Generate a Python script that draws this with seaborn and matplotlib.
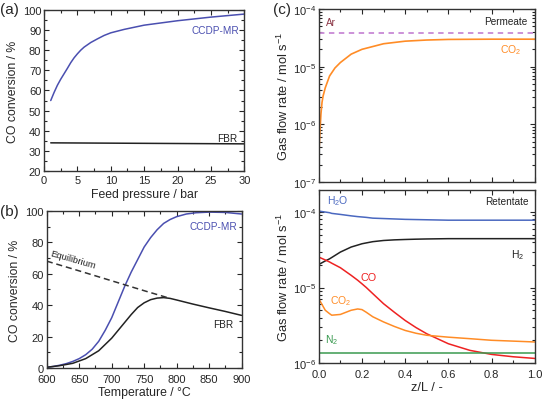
import numpy as np
import pandas as pd
import matplotlib
matplotlib.use("Agg")
import matplotlib.pyplot as plt
import seaborn as sns
from matplotlib.ticker import MultipleLocator, LogLocator, NullFormatter, FuncFormatter

# -----------------------------
# Data
# -----------------------------

# (a) CO conversion vs feed pressure
pressure = [1, 1.5, 2, 2.5, 3, 3.5, 4, 4.5, 5, 5.5, 6, 7, 8, 9, 10, 12, 15, 20, 25, 30]
mr_pressure = [55, 59, 62.6, 65.6, 68.3, 71, 73.8, 76.2, 78.2, 80, 81.5, 83.8, 85.6,
               87.3, 88.6, 90.3, 92.4, 94.6, 96.4, 97.9]
fbr_pressure_x = [1, 30]
fbr_pressure = [34, 33.5]

# (b) CO conversion vs temperature
temp = [600, 610, 620, 630, 640, 650, 660, 670, 680, 690, 700, 710, 720, 730, 740,
        750, 760, 770, 780, 790, 800, 815, 830, 850, 875, 900]
mr_temp = [0.5, 1, 1.8, 2.8, 4.2, 6, 8.5, 12, 17, 24, 32, 42, 52, 61, 69,
           77, 83, 88, 92, 94.5, 96.3, 98, 98.8, 99.2, 99, 98]
fbr_temp_x = [600, 620, 640, 660, 680, 700, 710, 720, 730, 740, 750, 760, 770, 780,
              790, 800, 825, 850, 875, 900]
fbr_temp = [0.5, 1.5, 3, 6, 11, 19, 24, 29, 34, 38.5, 41.5, 43.5, 44.5, 44.8,
            44.3, 43.3, 40.7, 38.3, 36, 33.5]
eq_temp_x = [600, 650, 700, 750, 790]
eq_temp = [68, 61.8, 55.5, 49.2, 44.3]

# (c) permeate side
z_perm = [0, 0.002, 0.005, 0.01, 0.015, 0.02, 0.03, 0.05, 0.075, 0.1,
          0.15, 0.2, 0.3, 0.4, 0.5, 0.6, 0.8, 1.0]
co2_perm = [2.1e-7, 4e-7, 7e-7, 1.5e-6, 2.4e-6, 3.1e-6, 4.3e-6, 6.9e-6, 9.5e-6, 1.18e-5,
            1.65e-5, 2.0e-5, 2.5e-5, 2.77e-5, 2.9e-5, 2.97e-5, 3.0e-5, 3.0e-5]
z_ar = [0, 1]
ar_perm = [3.8e-5, 3.8e-5]

# (c) retentate side
z_ret = [0, 0.03, 0.05, 0.06, 0.1, 0.15, 0.18, 0.2, 0.22, 0.25, 0.3, 0.35, 0.4,
         0.45, 0.5, 0.6, 0.7, 0.8, 0.9, 1.0]
h2o_ret = [1.03e-4, 1.0e-4, 0.98e-4, 0.96e-4, 0.93e-4, 0.89e-4, 0.87e-4, 0.86e-4, 0.85e-4,
           0.83e-4, 0.82e-4, 0.81e-4, 0.8e-4, 0.795e-4, 0.79e-4, 0.78e-4, 0.78e-4,
           0.78e-4, 0.78e-4, 0.78e-4]
h2_ret = [2.02e-5, 2.25e-5, 2.4e-5, 2.5e-5, 2.95e-5, 3.44e-5, 3.65e-5, 3.8e-5, 3.9e-5,
          4.05e-5, 4.2e-5, 4.28e-5, 4.33e-5, 4.37e-5, 4.4e-5, 4.44e-5, 4.44e-5,
          4.44e-5, 4.44e-5, 4.44e-5]
co_ret = [2.53e-5, 2.32e-5, 2.18e-5, 2.1e-5, 1.83e-5, 1.45e-5, 1.25e-5, 1.12e-5, 1.0e-5,
          8.3e-6, 6.1e-6, 4.7e-6, 3.66e-6, 2.95e-6, 2.44e-6, 1.8e-6, 1.47e-6, 1.3e-6,
          1.21e-6, 1.15e-6]
co2_ret = [7.1e-6, 5.0e-6, 4.5e-6, 4.3e-6, 4.4e-6, 5.0e-6, 5.2e-6, 5.1e-6, 4.7e-6,
           4.1e-6, 3.5e-6, 3.05e-6, 2.7e-6, 2.48e-6, 2.33e-6, 2.2e-6, 2.1e-6, 2.0e-6,
           1.95e-6, 1.9e-6]
z_n2 = [0, 1]
n2_ret = [1.36e-6, 1.36e-6]

# -----------------------------
# Style
# -----------------------------
sns.set_style("ticks")
plt.rcParams["font.family"] = ["Liberation Sans", "DejaVu Sans"]
plt.rcParams["mathtext.fontset"] = "custom"
plt.rcParams["mathtext.rm"] = "Liberation Sans"
plt.rcParams["mathtext.it"] = "Liberation Sans"
plt.rcParams["xtick.direction"] = "in"
plt.rcParams["ytick.direction"] = "in"
plt.rcParams["axes.linewidth"] = 1.0

BLUE = "#4a4fb0"
ORANGE = "#ff8c26"
RED = "#ee2222"
GREEN = "#3a9a50"
H2O_BLUE = "#4a68c0"
AR_TEXT = "#8b3545"
AR_LINE = "#c889d6"
TICK_FS = 8
LABEL_FS = 8.8

fig = plt.figure(figsize=(5.44, 4.02), dpi=100)
ax_a = fig.add_axes([0.081, 0.572, 0.368, 0.401])
ax_b = fig.add_axes([0.086, 0.082, 0.358, 0.391])
ax_ct = fig.add_axes([0.586, 0.545, 0.397, 0.430])
ax_cb = fig.add_axes([0.586, 0.0945, 0.397, 0.430])


def style_axes(ax, xpad=3):
    ax.tick_params(which="both", top=True, right=True, labelsize=TICK_FS, width=0.8)
    ax.tick_params(axis="x", pad=xpad)
    ax.tick_params(axis="y", pad=2)
    ax.tick_params(which="major", length=3.5)
    ax.tick_params(which="minor", length=2)
    for s in ax.spines.values():
        s.set_color("#333333")


# -----------------------------
# (a)
# -----------------------------
sns.lineplot(x=pressure, y=mr_pressure, ax=ax_a, color=BLUE, lw=1.1)
sns.lineplot(x=fbr_pressure_x, y=fbr_pressure, ax=ax_a, color="#222222", lw=1.1)
ax_a.set_xlim(0, 30)
ax_a.set_ylim(20, 100)
ax_a.xaxis.set_major_locator(MultipleLocator(5))
ax_a.xaxis.set_minor_locator(MultipleLocator(2.5))
ax_a.yaxis.set_major_locator(MultipleLocator(10))
ax_a.yaxis.set_minor_locator(MultipleLocator(5))
ax_a.set_xlabel("Feed pressure / bar", fontsize=LABEL_FS, labelpad=2)
ax_a.set_ylabel("CO conversion / %", fontsize=LABEL_FS, labelpad=3)
ax_a.text(25.6, 90, "CCDP-MR", color=BLUE, fontsize=7.2, ha="center", va="center")
ax_a.text(27.4, 36.2, "FBR", color="#222222", fontsize=7.2, ha="center", va="center")
style_axes(ax_a)

# -----------------------------
# (b)
# -----------------------------
sns.lineplot(x=temp, y=mr_temp, ax=ax_b, color=BLUE, lw=1.1)
sns.lineplot(x=fbr_temp_x, y=fbr_temp, ax=ax_b, color="#222222", lw=1.1)
sns.lineplot(x=eq_temp_x, y=eq_temp, ax=ax_b, color="#333333", lw=1.1, linestyle=(0, (4, 2.5)))
ax_b.set_xlim(600, 900)
ax_b.set_ylim(0, 100)
ax_b.xaxis.set_major_locator(MultipleLocator(50))
ax_b.xaxis.set_minor_locator(MultipleLocator(25))
ax_b.yaxis.set_major_locator(MultipleLocator(20))
ax_b.yaxis.set_minor_locator(MultipleLocator(10))
ax_b.set_xlabel("Temperature / \u00b0C", fontsize=LABEL_FS, labelpad=1)
ax_b.set_ylabel("CO conversion / %", fontsize=LABEL_FS, labelpad=3)
ax_b.text(857, 90.4, "CCDP-MR", color=BLUE, fontsize=7.2, ha="center", va="center")
ax_b.text(872, 28, "FBR", color="#222222", fontsize=7.2, ha="center", va="center")
ax_b.text(641, 69.2, "Equilibrium", color="#222222", fontsize=6.8, ha="center", va="center",
          rotation=-16)
style_axes(ax_b, xpad=4.5)


# -----------------------------
# (c)
# -----------------------------
def log_fmt(v, pos):
    e = int(round(np.log10(v)))
    return r"$10^{%d}$" % e


for ax in (ax_ct, ax_cb):
    ax.set_yscale("log")
    ax.set_xlim(0, 1)
    ax.xaxis.set_major_locator(MultipleLocator(0.2))
    ax.xaxis.set_minor_locator(MultipleLocator(0.1))
    ax.yaxis.set_major_locator(LogLocator(base=10))
    ax.yaxis.set_minor_locator(LogLocator(base=10, subs=np.arange(2, 10)))
    ax.yaxis.set_minor_formatter(NullFormatter())
    ax.yaxis.set_major_formatter(FuncFormatter(log_fmt))
    ax.set_ylabel("Gas flow rate / mol s$^{-1}$", fontsize=9.3, labelpad=1)
    style_axes(ax, xpad=4.5)

sns.lineplot(x=z_ar, y=ar_perm, ax=ax_ct, color=AR_LINE, lw=1.3, linestyle=(0, (3, 2.5)))
sns.lineplot(x=z_perm, y=co2_perm, ax=ax_ct, color=ORANGE, lw=1.2)
ax_ct.set_ylim(1e-7, 1e-4)
ax_ct.set_xticklabels([])
ax_ct.set_xlabel("")
ax_ct.text(0.054, 6e-5, "Ar", color=AR_TEXT, fontsize=7.2, ha="center", va="center")
ax_ct.text(0.866, 6.3e-5, "Permeate", color="#222222", fontsize=7.2, ha="center", va="center")
ax_ct.text(0.89, 2.0e-5, "CO$_2$", color=ORANGE, fontsize=7.5, ha="center", va="center")

sns.lineplot(x=z_ret, y=h2o_ret, ax=ax_cb, color=H2O_BLUE, lw=1.1)
sns.lineplot(x=z_ret, y=h2_ret, ax=ax_cb, color="#222222", lw=1.1)
sns.lineplot(x=z_ret, y=co_ret, ax=ax_cb, color=RED, lw=1.1)
sns.lineplot(x=z_ret, y=co2_ret, ax=ax_cb, color=ORANGE, lw=1.1)
sns.lineplot(x=z_n2, y=n2_ret, ax=ax_cb, color=GREEN, lw=1.1)
ax_cb.set_ylim(1e-6, 1.95e-4)
ax_cb.set_xlabel("z/L / -", fontsize=9.3, labelpad=1)
ax_cb.text(0.09, 1.42e-4, "H$_2$O", color=H2O_BLUE, fontsize=7.5, ha="center", va="center")
ax_cb.text(0.87, 1.4e-4, "Retentate", color="#222222", fontsize=7.2, ha="center", va="center")
ax_cb.text(0.92, 2.8e-5, "H$_2$", color="#222222", fontsize=7.5, ha="center", va="center")
ax_cb.text(0.23, 1.38e-5, "CO", color=RED, fontsize=7.8, ha="center", va="center")
ax_cb.text(0.10, 6.9e-6, "CO$_2$", color=ORANGE, fontsize=7.5, ha="center", va="center")
ax_cb.text(0.06, 2.1e-6, "N$_2$", color=GREEN, fontsize=7.5, ha="center", va="center")

# panel letters
fig.text(0.0, 0.975, "(a)", fontsize=11, va="center", ha="left")
fig.text(0.0, 0.472, "(b)", fontsize=11, va="center", ha="left")
fig.text(0.502, 0.975, "(c)", fontsize=11, va="center", ha="left")

fig.savefig("out.png", dpi=100)
